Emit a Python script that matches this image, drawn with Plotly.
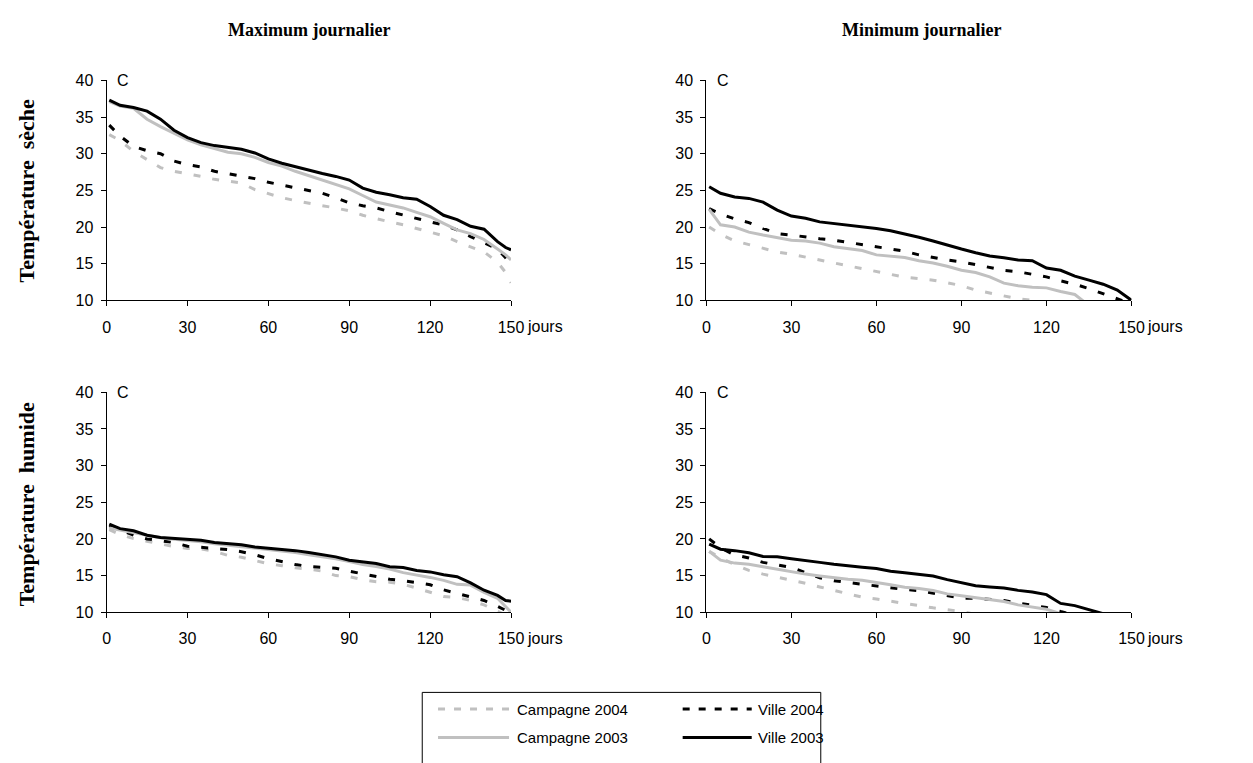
import plotly.graph_objects as go

W, H = 1253, 763

# Day index of each reading (ranked days, warmest first)
DAYS = [1, 5, 10, 15, 20, 25, 30, 35, 40, 45, 50, 55, 60, 65, 70, 75,
        80, 85, 90, 95, 100, 105, 110, 115, 120, 125, 130, 135, 140, 145, 148, 150]

X_TICKS = [0, 30, 60, 90, 120, 150]
Y_TICKS = [10, 15, 20, 25, 30, 35, 40]

SERIES = ["Campagne 2004", "Ville 2004", "Campagne 2003", "Ville 2003"]

# Maximum journalier - température sèche
MAX_SECHE_C04 = [32.6, 31.8, 30.3, 29.2, 28.1, 27.6, 27.3, 26.9, 26.5, 26.2, 26.0, 25.1, 24.5, 24.0, 23.6, 23.2,
                 22.9, 22.6, 22.2, 21.6, 21.1, 20.7, 20.3, 19.8, 19.3, 18.8, 18.0, 17.3, 16.6, 15.2, 13.8, 12.4]
MAX_SECHE_V04 = [33.9, 32.4, 31.0, 30.4, 30.0, 29.0, 28.5, 28.2, 27.6, 27.3, 27.0, 26.6, 26.1, 25.7, 25.4, 24.9,
                 24.6, 24.0, 23.3, 22.9, 22.6, 22.1, 21.6, 21.2, 20.7, 20.3, 19.6, 18.7, 17.9, 17.0, 15.8, 14.7]
MAX_SECHE_C03 = [37.1, 36.5, 36.2, 34.7, 33.7, 32.8, 31.9, 31.2, 30.7, 30.2, 30.0, 29.5, 28.8, 28.3, 27.6, 27.0,
                 26.4, 25.8, 25.2, 24.3, 23.4, 23.0, 22.6, 22.0, 21.4, 20.5, 19.6, 19.1, 18.3, 17.0, 16.2, 15.5]
MAX_SECHE_V03 = [37.3, 36.6, 36.3, 35.8, 34.7, 33.2, 32.2, 31.5, 31.1, 30.9, 30.6, 30.1, 29.3, 28.7, 28.2, 27.7,
                 27.3, 26.9, 26.4, 25.3, 24.75, 24.4, 24.0, 23.8, 22.8, 21.6, 21.0, 20.1, 19.7, 18.0, 17.2, 16.9]

# Minimum journalier - température sèche
MIN_SECHE_C04 = [20.0, 19.0, 18.1, 17.6, 17.0, 16.6, 16.3, 15.85, 15.5, 15.1, 14.7, 14.3, 13.85, 13.5, 13.15, 12.95,
                 12.75, 12.4, 12.0, 11.4, 11.0, 10.7, 10.2, 10.0, 9.8, 9.5, None, None, None, None, None, None]
MIN_SECHE_V04 = [22.5, 21.8, 21.1, 20.6, 19.8, 19.1, 18.9, 18.6, 18.4, 18.2, 17.9, 17.5, 17.3, 17.0, 16.7, 16.2,
                 15.8, 15.5, 15.25, 14.9, 14.5, 14.1, 13.9, 13.6, 13.2, 12.65, 12.2, 11.6, 10.9, 10.2, 9.8, 9.5]
MIN_SECHE_C03 = [22.4, 20.3, 20.0, 19.3, 18.9, 18.5, 18.2, 18.1, 17.8, 17.3, 17.1, 16.8, 16.2, 16.0, 15.85, 15.4,
                 15.1, 14.65, 14.1, 13.8, 13.2, 12.35, 12.0, 11.8, 11.7, 11.2, 10.8, 9.3, None, None, None, None]
MIN_SECHE_V03 = [25.5, 24.6, 24.1, 23.9, 23.4, 22.3, 21.5, 21.2, 20.7, 20.5, 20.3, 20.0, 19.8, 19.5, 19.1, 18.6,
                 18.1, 17.5, 17.0, 16.5, 16.05, 15.8, 15.5, 15.4, 14.4, 14.1, 13.3, 12.75, 12.2, 11.4, 10.6, 10.0]

# Maximum journalier - température humide
MAX_HUMIDE_C04 = [21.25, 20.6, 20.05, 19.7, 19.25, 18.95, 18.7, 18.65, 18.3, 17.75, 17.5, 17.0, 16.6, 16.35, 16.05, 15.9,
                  15.6, 15.0, 14.85, 14.45, 14.15, 14.1, 13.8, 13.3, 12.7, 12.15, 12.0, 11.6, 11.0, 10.15, 9.6, None]
MAX_HUMIDE_V04 = [21.8, 21.2, 20.5, 20.0, 19.8, 19.5, 19.0, 18.85, 18.7, 18.55, 18.25, 17.85, 17.3, 16.85, 16.5, 16.25,
                  16.1, 16.0, 15.6, 15.25, 14.85, 14.5, 14.3, 14.05, 13.75, 13.05, 12.6, 12.1, 11.6, 10.8, 10.3, 9.9]
MAX_HUMIDE_C03 = [21.5, 21.2, 20.85, 20.55, 20.15, 19.95, 19.8, 19.6, 19.35, 19.15, 18.95, 18.75, 18.6, 18.35, 18.15, 17.85,
                  17.6, 17.3, 16.9, 16.5, 16.25, 15.9, 15.4, 15.1, 14.75, 14.35, 13.8, 13.7, 12.7, 11.9, 10.8, 10.0]
MAX_HUMIDE_V03 = [22.0, 21.4, 21.1, 20.5, 20.2, 20.05, 20.0, 19.8, 19.5, 19.35, 19.2, 18.9, 18.75, 18.5, 18.4, 18.15,
                  17.85, 17.55, 17.1, 16.9, 16.65, 16.2, 16.1, 15.7, 15.5, 15.1, 14.85, 14.0, 13.0, 12.3, 11.6, 11.5]

# Minimum journalier - température humide
MIN_HUMIDE_C04 = [18.3, 17.4, 16.5, 15.7, 15.2, 14.8, 14.45, 13.95, 13.45, 12.95, 12.5, 12.05, 11.8, 11.5, 11.1, 10.85,
                  10.6, 10.35, 10.1, 9.7, None, None, None, None, None, None, None, None, None, None, None, None]
MIN_HUMIDE_V04 = [20.0, 18.8, 17.8, 17.4, 16.8, 16.4, 16.1, 15.4, 14.7, 14.3, 14.05, 13.85, 13.6, 13.3, 13.1, 12.95,
                  12.6, 12.2, 11.9, 11.9, 11.8, 11.6, 11.25, 10.95, 10.65, 10.1, 9.6, None, None, None, None, None]
MIN_HUMIDE_C03 = [18.3, 17.1, 16.7, 16.55, 16.2, 15.85, 15.55, 15.2, 14.95, 14.7, 14.5, 14.35, 14.1, 13.75, 13.4, 13.25,
                  12.95, 12.5, 12.25, 12.0, 11.75, 11.45, 11.0, 10.75, 10.4, 9.8, None, None, None, None, None, None]
MIN_HUMIDE_V03 = [19.3, 18.6, 18.4, 18.1, 17.6, 17.55, 17.3, 17.0, 16.8, 16.55, 16.3, 16.15, 15.95, 15.6, 15.38, 15.2,
                  14.95, 14.45, 14.05, 13.6, 13.45, 13.3, 12.98, 12.75, 12.4, 11.2, 10.9, 10.35, 9.8, None, None, None]

GRAY = "#C0C0C0"
STYLE = {
    "Campagne 2004": dict(color=GRAY, dash="7px,12px"),
    "Ville 2004": dict(color="black", dash="7px,12px"),
    "Campagne 2003": dict(color=GRAY, dash="solid"),
    "Ville 2003": dict(color="black", dash="solid"),
}

PANELS = [
    ("x", "y", [MAX_SECHE_C04, MAX_SECHE_V04, MAX_SECHE_C03, MAX_SECHE_V03]),
    ("x2", "y2", [MIN_SECHE_C04, MIN_SECHE_V04, MIN_SECHE_C03, MIN_SECHE_V03]),
    ("x3", "y3", [MAX_HUMIDE_C04, MAX_HUMIDE_V04, MAX_HUMIDE_C03, MAX_HUMIDE_V03]),
    ("x4", "y4", [MIN_HUMIDE_C04, MIN_HUMIDE_V04, MIN_HUMIDE_C03, MIN_HUMIDE_V03]),
]

SANS = "Liberation Sans, Arial, sans-serif"
SERIF = "Liberation Serif, Times New Roman, serif"


def px(x):
    return x / W


def py(y):
    return 1 - y / H


fig = go.Figure()
for xa, ya, values in PANELS:
    for name, vals in zip(SERIES, values):
        st = STYLE[name]
        fig.add_trace(go.Scatter(
            x=DAYS, y=vals, xaxis=xa, yaxis=ya, mode="lines", name=name,
            showlegend=False, connectgaps=False,
            line=dict(color=st["color"], width=3, dash=st["dash"]),
        ))

axis_base = dict(
    showline=True, linecolor="black", linewidth=1, mirror=False,
    ticks="outside", ticklen=5, tickwidth=1, tickcolor="black",
    showgrid=False, zeroline=False,
    tickfont=dict(family=SANS, size=16, color="black"),
)
x_dom_left = [px(104), px(514)]
x_dom_right = [px(712), px(1143)]
y_dom_top = [py(299), py(74)]
y_dom_bottom = [py(618), py(393)]

layout_axes = {}
for i, (xd, yd) in enumerate([(x_dom_left, y_dom_top), (x_dom_right, y_dom_top),
                              (x_dom_left, y_dom_bottom), (x_dom_right, y_dom_bottom)], start=1):
    sx = "" if i == 1 else str(i)
    layout_axes["xaxis" + sx] = dict(axis_base, domain=xd, range=[0, 150], tickvals=X_TICKS,
                                     anchor="y" + sx, ticklabelstandoff=7)
    layout_axes["yaxis" + sx] = dict(axis_base, domain=yd, range=[10, 40], tickvals=Y_TICKS,
                                     anchor="x" + sx, ticklabelstandoff=4)

annotations = []
# "C" unit marker and "jours" suffix on each panel
for i in range(1, 5):
    sx = "" if i == 1 else str(i)
    annotations.append(dict(xref="x" + sx, yref="y" + sx, x=3, y=40, text="C", showarrow=False,
                            xanchor="left", yanchor="middle", font=dict(family=SANS, size=16, color="black")))
    annotations.append(dict(xref="x" + sx, yref="y" + sx, x=150, y=10, text="jours", showarrow=False,
                            xanchor="left", yanchor="middle", xshift=14, yshift=-26,
                            font=dict(family=SANS, size=16, color="black")))

# Column titles
for text, xc in [("Maximum journalier", 309), ("Minimum journalier", 931)]:
    annotations.append(dict(xref="paper", yref="paper", x=px(xc), y=py(23), text="<b>" + text + "</b>",
                            showarrow=False, xanchor="center", yanchor="middle",
                            font=dict(family=SERIF, size=18, color="black")))

# Row titles
for text, yc in [("Température  sèche", 187), ("Température  humide", 508)]:
    annotations.append(dict(xref="paper", yref="paper", x=px(23), y=py(yc), text="<b>" + text + "</b>",
                            showarrow=False, textangle=-90, xanchor="center", yanchor="middle",
                            font=dict(family=SERIF, size=22, color="black")))

# Legend box drawn with shapes and labels
shapes = [dict(type="rect", xref="paper", yref="paper", x0=px(424), x1=px(828), y0=py(790), y1=py(700),
               line=dict(color="black", width=1), fillcolor="white", layer="above")]
legend_rows = [
    [("Campagne 2004", 440, 512, 518), ("Ville 2004", 688, 758, 762)],
    [("Campagne 2003", 440, 512, 518), ("Ville 2003", 688, 758, 762)],
]
for row_y, row in zip([717, 746], legend_rows):
    for name, lx0, lx1, tx in row:
        st = STYLE[name]
        dash = "solid" if st["dash"] == "solid" else "7px,9px"
        shapes.append(dict(type="line", xref="paper", yref="paper", x0=px(lx0), x1=px(lx1),
                           y0=py(row_y), y1=py(row_y), line=dict(color=st["color"], width=3, dash=dash)))
        annotations.append(dict(xref="paper", yref="paper", x=px(tx), y=py(row_y), text=name,
                                showarrow=False, xanchor="left", yanchor="middle",
                                font=dict(family=SANS, size=15, color="black")))

fig.update_layout(
    width=W, height=H,
    margin=dict(l=0, r=0, t=0, b=0),
    paper_bgcolor="white", plot_bgcolor="white",
    showlegend=False,
    annotations=annotations, shapes=shapes,
    **layout_axes,
)

fig.write_html("out.html")
